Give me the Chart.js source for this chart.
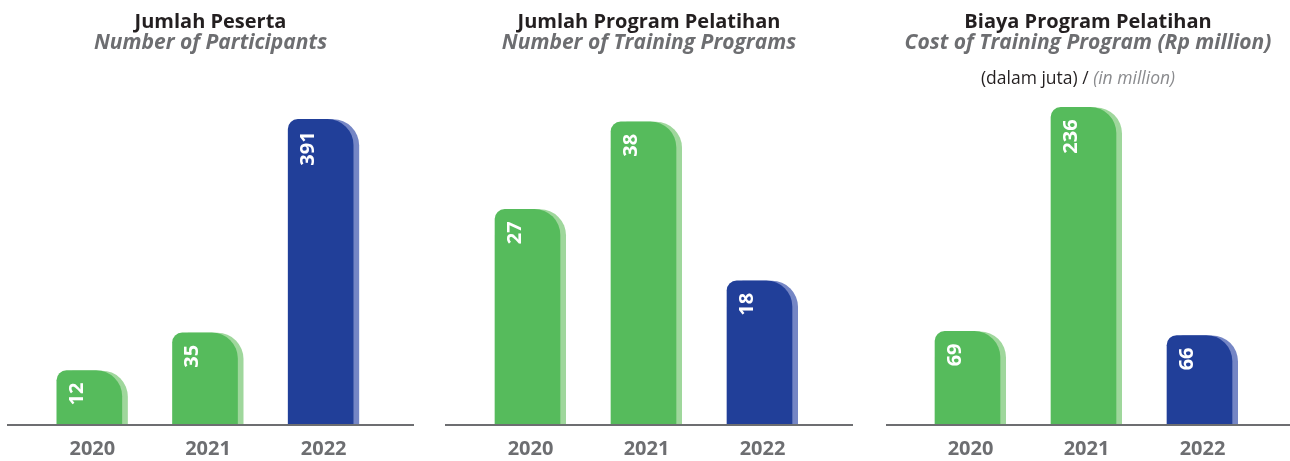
<!DOCTYPE html>
<html lang="id">
<head>
    <meta charset="UTF-8">
    <title>Pelatihan 2020-2022</title>
    <script src="https://cdn.jsdelivr.net/npm/chart.js"></script>
    <style>
        body { margin: 0; background: #fff; font-family: "Open Sans", sans-serif; }
        #wrap { position: relative; width: 1290px; height: 461px; overflow: hidden; }
        .panel { position: absolute; top: 0; height: 461px; }
        .title { position: absolute; top: 10px; left: 0; right: 0; text-align: center; line-height: 21px; font-size: 20px; font-weight: 700; color: #231f20; z-index: 2; }
        .title em { color: #6d6e71; display: block; font-size: 21px; }
        .unit { position: absolute; top: 65px; left: -20px; right: 0; text-align: center; font-size: 17.5px; color: #231f20; z-index: 2; }
        .unit i { color: #8a8b8e; }
    </style>
</head>
<body>
<div id="wrap">
    <div class="panel" style="left:7px; width:407px;">
        <div class="title">Jumlah Peserta<em>Number of Participants</em></div>
        <canvas id="c1"></canvas>
    </div>
    <div class="panel" style="left:445px; width:408px;">
        <div class="title">Jumlah Program Pelatihan<em>Number of Training Programs</em></div>
        <canvas id="c2"></canvas>
    </div>
    <div class="panel" style="left:886px; width:404px;">
        <div class="title">Biaya Program Pelatihan<em>Cost of Training Program (Rp million)</em></div>
        <div class="unit">(dalam juta) / <i>(in million)</i></div>
        <canvas id="c3"></canvas>
    </div>
</div>

<script>
    // data
    const years = ['2020', '2021', '2022'];
    const participants = [12, 35, 391];
    const programs = [27, 38, 18];
    const costs = [69, 236, 66];

    const GREEN = '#56bb5c', GREEN_LIGHT = '#9fd79c';
    const BLUE = '#213f99', BLUE_LIGHT = '#7586c5';
    const GRAY = '#6d6e71';
    const barColors = [GREEN, GREEN, BLUE];
    const sideColors = [GREEN_LIGHT, GREEN_LIGHT, BLUE_LIGHT];

    // square-root scale, the participants chart spans 12..391
    class SqrtScale extends Chart.LinearScale {
        getPixelForValue(value) {
            const a = Math.sqrt(this.min), b = Math.sqrt(this.max);
            return this.getPixelForDecimal((Math.sqrt(value) - a) / (b - a));
        }
        getValueForPixel(pixel) {
            const a = Math.sqrt(this.min), b = Math.sqrt(this.max);
            const s = a + this.getDecimalForPixel(pixel) * (b - a);
            return s * s;
        }
    }
    SqrtScale.id = 'sqrt';
    SqrtScale.defaults = Chart.LinearScale.defaults;
    Chart.register(SqrtScale);

    // light strip on the right side of each bar + the base line
    const sidePlugin = {
        id: 'side',
        beforeDatasetsDraw(chart) {
            const ctx = chart.ctx;
            const bottom = chart.chartArea.bottom;
            ctx.save();
            ctx.fillStyle = GRAY;
            ctx.fillRect(0, bottom, chart.width, 2);
            chart.getDatasetMeta(0).data.forEach((bar, i) => {
                ctx.fillStyle = sideColors[i];
                ctx.beginPath();
                ctx.roundRect(bar.x - bar.width / 2 + 6, bar.y, bar.width, bar.base - bar.y, [10, 26, 0, 0]);
                ctx.fill();
            });
            ctx.restore();
        }
    };

    // value written sideways near the top of each bar
    const valuePlugin = {
        id: 'values',
        afterDatasetsDraw(chart) {
            const ctx = chart.ctx;
            const values = chart.data.datasets[0].data;
            ctx.save();
            ctx.fillStyle = '#fff';
            ctx.font = 'bold 20px "Open Sans"';
            ctx.textAlign = 'right';
            ctx.textBaseline = 'middle';
            chart.getDatasetMeta(0).data.forEach((bar, i) => {
                ctx.save();
                ctx.translate(bar.x - bar.width / 2 + 20, bar.y + 12);
                ctx.rotate(-Math.PI / 2);
                ctx.fillText(values[i], 0, 0);
                ctx.restore();
            });
            ctx.restore();
        }
    };

    function makeChart(id, values, yType, yMax, padLeft, padRight) {
        return new Chart(document.getElementById(id), {
            type: 'bar',
            data: {
                labels: years,
                datasets: [{
                    data: values,
                    backgroundColor: barColors,
                    barThickness: 65,
                    borderRadius: { topLeft: 10, topRight: 26, bottomLeft: 0, bottomRight: 0 },
                    borderSkipped: 'start'
                }]
            },
            options: {
                responsive: true,
                maintainAspectRatio: false,
                animation: false,
                layout: { padding: { top: 90, left: padLeft, right: padRight, bottom: 0 } },
                plugins: { legend: { display: false }, tooltip: { enabled: false } },
                scales: {
                    x: {
                        grid: { display: false },
                        border: { display: false },
                        ticks: {
                            color: GRAY,
                            font: { family: 'Open Sans', size: 20, weight: 'bold' },
                            padding: 5,
                            labelOffset: 3
                        },
                        afterFit(scale) { scale.height = 37; }
                    },
                    y: { type: yType, display: false, min: 0, max: yMax }
                }
            },
            plugins: [sidePlugin, valuePlugin]
        });
    }

    makeChart('c1', participants, 'sqrt', 470, 24.5, 35.5);
    makeChart('c2', programs, 'linear', 42, 24.5, 35.5);
    makeChart('c3', costs, 'linear', 249, 23.5, 32.5);
</script>
</body>
</html>
